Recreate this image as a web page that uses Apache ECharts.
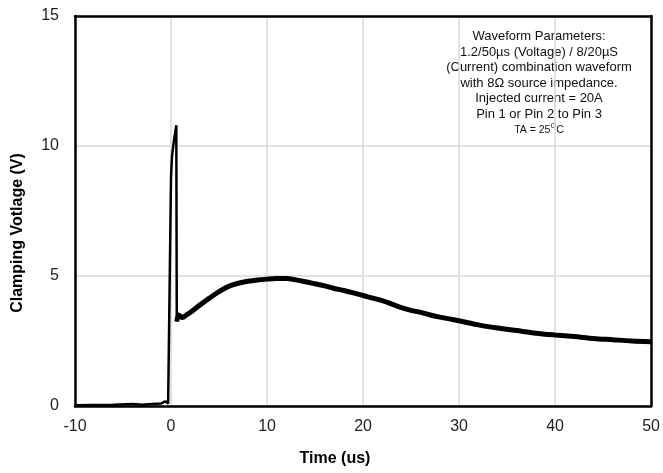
<!DOCTYPE html>
<html>
<head>
<meta charset="utf-8">
<script src="https://cdn.jsdelivr.net/npm/echarts@6/dist/echarts.min.js"></script>
<style>html,body{margin:0;padding:0;background:#fff}#c{width:663px;height:473px}</style>
</head>
<body>
<div id="c"></div>
<script>
// Spike part (time in us, voltage in V)
var spikeTime = [-10, -8, -6, -4, -3, -2, -1, -0.6, -0.3, -0.1, 0, 0.1, 0.3, 0.55, 0.6];
var spikeVolt = [0.03, 0.04, 0.05, 0.08, 0.05, 0.08, 0.1, 0.18, 0.1, 0.1, 8.8, 9.6, 10.2, 10.8, 3.25];
// Decay part
var decayTime = [0.6, 0.8, 1.2, 1.6, 2, 3, 4, 5, 6, 7, 8, 9, 10, 11, 12, 13, 14, 15, 16, 17, 18, 19, 20, 21, 22, 23, 24, 25, 26, 27, 28, 29, 30, 32, 34, 36, 38, 40, 42, 44, 46, 48, 50];
var decayVolt = [3.25, 3.5, 3.4, 3.5, 3.6, 3.88, 4.15, 4.4, 4.6, 4.72, 4.8, 4.85, 4.88, 4.9, 4.9, 4.85, 4.78, 4.7, 4.62, 4.52, 4.44, 4.35, 4.25, 4.15, 4.05, 3.92, 3.78, 3.68, 3.6, 3.5, 3.42, 3.35, 3.28, 3.12, 3.0, 2.9, 2.8, 2.73, 2.67, 2.6, 2.55, 2.5, 2.47];
var xTicks = [-10, 0, 10, 20, 30, 40, 50];
var yTicks = [0, 5, 10, 15];
var xTitle = 'Time (us)';
var yTitle = 'Clamping Votlage (V)';
var noteLines = ['Waveform Parameters:', '1.2/50\u00b5s (Voltage) / 8/20\u00b5S', '(Current) combination waveform', 'with 8\u03a9 source impedance.', 'Injected current = 20A', 'Pin 1 or Pin 2 to Pin 3'];

function zip(a, b) { return a.map(function (v, i) { return [v, b[i]]; }); }

var chart = echarts.init(document.getElementById('c'));
var font = 'Liberation Sans, Arial, sans-serif';
var frameAxis = { show: true, lineStyle: { color: '#000', width: 2.5 }, onZero: false };
chart.setOption({
  animation: false,
  grid: { left: 75, right: 11, top: 16, bottom: 67 },
  xAxis: [{
    type: 'value', min: xTicks[0], max: xTicks[xTicks.length - 1], interval: 10,
    axisLine: frameAxis,
    axisTick: { show: false },
    axisLabel: { fontFamily: font, fontSize: 16, color: '#222', margin: 13 },
    splitLine: { show: true, lineStyle: { color: '#d9d9d9', width: 1.5 } }
  }, {
    type: 'value', position: 'top', min: xTicks[0], max: xTicks[xTicks.length - 1],
    axisLine: frameAxis, axisTick: { show: false }, axisLabel: { show: false }, splitLine: { show: false }, z: 5
  }],
  yAxis: [{
    type: 'value', min: yTicks[0], max: yTicks[yTicks.length - 1], interval: 5,
    axisLine: frameAxis,
    axisTick: { show: false },
    axisLabel: { fontFamily: font, fontSize: 16, color: '#222', margin: 16 },
    splitLine: { show: true, lineStyle: { color: '#d9d9d9', width: 1.5 } }
  }, {
    type: 'value', position: 'right', min: yTicks[0], max: yTicks[yTicks.length - 1],
    axisLine: frameAxis, axisTick: { show: false }, axisLabel: { show: false }, splitLine: { show: false }, z: 5
  }],
  series: [
    { type: 'line', data: zip(spikeTime, spikeVolt), showSymbol: false, lineStyle: { color: '#000', width: 2.5 }, z: 3 },
    { type: 'line', data: zip(decayTime, decayVolt), showSymbol: false, smooth: 0.3, lineStyle: { color: '#000', width: 5 }, z: 3 }
  ],
  graphic: [{
    type: 'text', x: 335, y: 459,
    style: { text: xTitle, font: 'bold 16px ' + font, fill: '#000', textAlign: 'center', textVerticalAlign: 'middle' }
  }, {
    type: 'text', x: 18, y: 233, rotation: Math.PI / 2,
    style: { text: yTitle, font: 'bold 16px ' + font, fill: '#000', textAlign: 'center', textVerticalAlign: 'middle' }
  }, {
    type: 'text', x: 539, y: 29,
    style: {
      text: noteLines.join('\n') + '\n{s|TA = 25}{sup|O}{s|C}',
      font: '13px ' + font, fill: '#111', lineHeight: 15.5, textAlign: 'center', align: 'center',
      rich: {
        s: { fontFamily: font, fontSize: 10.5, fill: '#111', lineHeight: 15.5 },
        sup: { fontFamily: font, fontSize: 7.5, fill: '#111', verticalAlign: 'top', lineHeight: 15.5, padding: [0, 0, 5, 0] }
      }
    }
  }]
});
</script>
</body>
</html>
